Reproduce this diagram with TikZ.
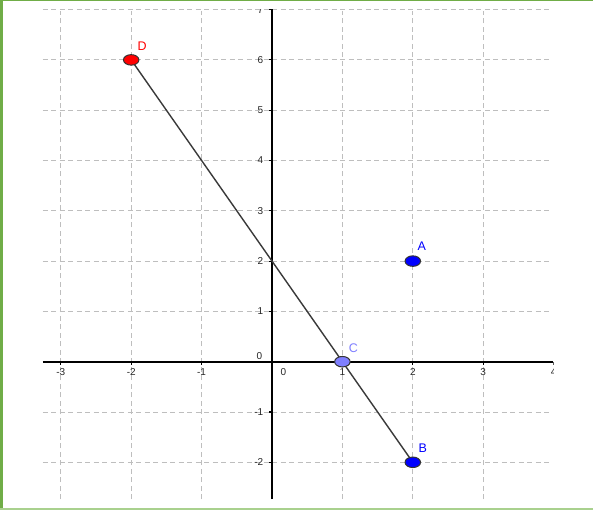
\documentclass[tikz,border=0pt]{standalone}
\usepackage{fontspec}
\setmainfont{Liberation Sans}
\usetikzlibrary{shapes.geometric}
\definecolor{bordergreen}{HTML}{70AD47}
\definecolor{bottomgreen}{HTML}{A9D18E}
\definecolor{gridgray}{HTML}{BEBEBE}
\definecolor{segcol}{HTML}{3A3A3A}
\definecolor{ptblue}{HTML}{0000FF}
\definecolor{ptlight}{HTML}{7F7FFF}
\definecolor{ptred}{HTML}{FF0000}
\tikzset{
  gridline/.style={gridgray, line width=1pt, dash pattern=on 5pt off 3.5pt},
  axisline/.style={black, line width=2.2pt},
  tickmark/.style={black, line width=1.2pt},
  ticklabel/.style={font=\fontsize{10}{11}\selectfont, inner sep=0pt, text=black!85},
  ptnode/.style={ellipse, draw=black!80, line width=1pt, minimum width=15.5pt, minimum height=10.5pt, inner sep=0pt},
  ptlabel/.style={font=\fontsize{12.5}{13}\selectfont, inner sep=0pt},
  segment/.style={segcol, line width=1.4pt}
}
\begin{document}
\begin{tikzpicture}[x=1pt,y=-1pt]
\useasboundingbox (0,0) rectangle (593,510);
\fill[white] (0,0) rectangle (593,510);
\begin{scope}
\clip (40,10) rectangle (553.5,500);
\begin{scope}[shift={(272,361.7)}, x=70.4pt, y=50.3pt]
  % grid
  \foreach \yy in {-2,...,7} \draw[gridline] (-3.253,\yy) -- (3.99,\yy);
  \foreach \xx in {-3,...,3} \draw[gridline] (\xx,-2.73) -- (\xx,6.97);
  % axes
  \draw[axisline] (-3.253,0) -- (3.99,0);
  \draw[axisline] (0,-2.73) -- (0,7.2);
  % ticks and labels on x axis
  \foreach \xx in {-3,-2,-1,1,2,3,4} {
    \draw[tickmark] (\xx,0) -- ++(0pt,-3pt);
    \node[ticklabel] (xl\xx) at ([yshift=-10.5pt]\xx,0) {\xx};
  }
  % ticks and labels on y axis
  \foreach \yy in {-2,-1,1,2,3,4,5,6,7} {
    \draw[tickmark] (0,\yy) -- ++(-3pt,0pt);
    \node[ticklabel, anchor=east] (yl\yy) at ([xshift=-8.5pt]0,\yy) {\yy};
  }
  \node[ticklabel] (xzero) at ([xshift=11.5pt, yshift=-10.5pt]0,0) {0};
  \node[ticklabel] (yzero) at ([xshift=-12.5pt, yshift=5.7pt]0,0) {0};
  % segment and points
  \coordinate (d) at (-2,6);
  \coordinate (b) at (2,-2);
  \draw[segment] (d) -- (b);
  \node[ptnode, fill=ptred] (D) at (d) {};
  \node[ptnode, fill=ptblue] (A) at (2,2) {};
  \node[ptnode, fill=ptblue] (B) at (b) {};
  \node[ptnode, fill=ptlight] (C) at (1,0) {};
  \node[ptlabel, text=ptred] (Dl) at ([xshift=11pt, yshift=14pt]D.center) {D};
  \node[ptlabel, text=ptblue] (Al) at ([xshift=9pt, yshift=15pt]A.center) {A};
  \node[ptlabel, text=ptlight] (Cl) at ([xshift=11pt, yshift=14pt]C.center) {C};
  \node[ptlabel, text=ptblue] (Bl) at ([xshift=10pt, yshift=14pt]B.center) {B};
\end{scope}
\end{scope}
% frame
\fill[bordergreen] (0,0) rectangle (593,1.5);
\fill[bordergreen] (0,0) rectangle (2.5,510);
\fill[bottomgreen] (0,507.5) rectangle (593,510);
\end{tikzpicture}
\end{document}
